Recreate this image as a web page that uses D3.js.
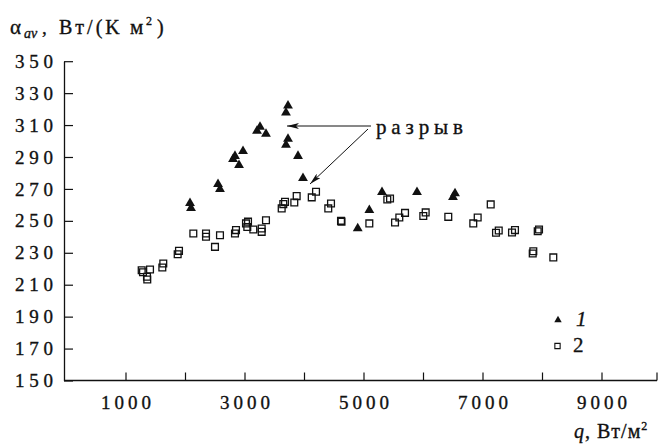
<!DOCTYPE html>
<html><head><meta charset="utf-8">
<script src="https://cdn.jsdelivr.net/npm/d3@7"></script>
<style>html,body{margin:0;padding:0;background:#fff}svg{display:block}
svg text{font-family:"Liberation Serif","DejaVu Serif",serif !important;stroke:#111;stroke-width:0.35px;}</style>
</head><body>
<svg id="chart" width="659" height="448"></svg>
<script>
// Series 1 (triangles): heat flux q, W/m2
const q1 = [2084, 2101, 2555, 2588, 2840, 2975, 2908, 2807, 3261, 3361, 3210, 3731, 3697, 3731, 3697, 3899, 3983, 4903, 5098, 5311, 5899, 6538, 6504];
const a1 = [261.1, 258.0, 273.0, 269.9, 290.6, 293.7, 284.9, 288.7, 308.8, 304.4, 306.3, 322.2, 317.8, 301.3, 297.5, 290.6, 276.8, 245.2, 256.7, 268.0, 268.0, 267.2, 264.9];
// Series 2 (squares)
const q2 = [1272, 1412, 1366, 1361, 1294, 1619, 1635, 1877, 1899, 2140, 2353, 2353, 2588, 2504, 2840, 2857, 3025, 3047, 3059, 3148, 3289, 3289, 3361, 3625, 3652, 3681, 3837, 3877, 4130, 4202, 4408, 4454, 4622, 4630, 5098, 5400, 5446, 5530, 5602, 5698, 6005, 6045, 6425, 6845, 6919, 7138, 7227, 7273, 7496, 7546, 7928, 7950, 7844, 7854, 8190];
const a2 = [219.1, 219.5, 213.3, 215.0, 217.8, 220.8, 223.3, 229.1, 231.2, 242.1, 242.1, 240.0, 241.0, 233.7, 242.1, 244.2, 248.4, 246.2, 249.5, 244.6, 245.2, 243.1, 250.4, 257.8, 260.5, 261.9, 261.5, 265.5, 264.7, 268.2, 257.8, 260.9, 250.0, 249.5, 248.4, 263.4, 264.0, 249.0, 252.1, 255.0, 253.0, 255.3, 252.5, 248.4, 252.1, 260.3, 242.5, 244.0, 242.7, 244.2, 243.5, 244.6, 229.6, 231.0, 227.1];
const xTicks = [1000, 2000, 3000, 4000, 5000, 6000, 7000, 8000, 9000];
const xLabels = ["1000", "", "3000", "", "5000", "", "7000", "", "9000"];
const yTicks = [150, 170, 190, 210, 230, 250, 270, 290, 310, 330, 350];
const legendLabels = ["1", "2"];
const gapLabel = "разрыв";

const svg = d3.select("#chart");
const FONT = "Liberation Serif";
const ink = "#111";
const x = d3.scaleLinear().domain([0, 10000]).range([66, 661]);
const y = d3.scaleLinear().domain([150, 350]).range([380.5, 61.2]);
const x0 = 64, xEnd = 657;

// X axis
const gx = svg.append("g").attr("transform", `translate(0,${y(150)})`)
  .call(d3.axisBottom(x).tickValues(xTicks).tickSizeInner(-8).tickSizeOuter(0).tickPadding(15)
    .tickFormat((d, i) => xLabels[i]));
gx.attr("font-family", null);
gx.select(".domain").remove();
gx.selectAll(".tick line").attr("stroke", ink).attr("stroke-width", 1.2);
gx.selectAll(".tick text").attr("font-family", FONT).attr("font-size", 19).attr("fill", ink)
  .each(function(d, i){ if (xLabels[i]) d3.select(this).attr("textLength", 50).attr("lengthAdjust", "spacing"); });
gx.append("line").attr("x1", x0).attr("x2", xEnd).attr("y1", 0).attr("y2", 0).attr("stroke", ink).attr("stroke-width", 1.3);
gx.append("line").attr("x1", xEnd).attr("x2", xEnd).attr("y1", 0).attr("y2", -8).attr("stroke", ink).attr("stroke-width", 1.2);

// Y axis
const gy = svg.append("g").attr("transform", `translate(${x0},0)`)
  .call(d3.axisLeft(y).tickValues(yTicks).tickSizeInner(-9).tickSizeOuter(0).tickPadding(11));
gy.attr("font-family", null);
gy.select(".domain").attr("stroke", ink).attr("stroke-width", 1.3);
gy.selectAll(".tick line").attr("stroke", ink).attr("stroke-width", 1.2);
gy.selectAll(".tick text").attr("font-family", FONT).attr("font-size", 19).attr("fill", ink)
  .attr("textLength", 38).attr("lengthAdjust", "spacing");

// Y title
const yt = svg.append("text").attr("font-family", FONT).attr("fill", ink).attr("y", 33.5);
yt.append("tspan").attr("x", 10).attr("font-size", 21).text("α");
yt.append("tspan").attr("x", 24).attr("dy", 4).attr("font-size", 14).attr("font-style", "italic").text("av");
yt.append("tspan").attr("x", 42).attr("dy", -4).attr("font-size", 19).text(",");
yt.append("tspan").attr("x", 59).attr("font-size", 20).attr("letter-spacing", 3).text("Вт/(K");
yt.append("tspan").attr("x", 130).attr("font-size", 21).text("м");
yt.append("tspan").attr("x", 146).attr("dy", -9).attr("font-size", 12).text("2");
yt.append("tspan").attr("x", 157).attr("dy", 9).attr("font-size", 20).text(")");

// X title
const xt = svg.append("text").attr("font-family", FONT).attr("fill", ink).attr("y", 438).attr("font-size", 20);
xt.append("tspan").attr("x", 574).attr("font-style", "italic").text("q");
xt.append("tspan").attr("x", 585).text(",");
xt.append("tspan").attr("x", 597).attr("letter-spacing", 1).text("Вт/м");
xt.append("tspan").attr("dy", -8).attr("font-size", 12).text("2");

// Points
const pts2 = q2.map((q, i) => ({q, a: a2[i]}));
const pts1 = q1.map((q, i) => ({q, a: a1[i]}));
svg.append("g").selectAll("path").data(pts2).join("path")
  .attr("d", d3.symbol(d3.symbolSquare, 46))
  .attr("transform", d => `translate(${x(d.q)},${y(d.a)})`)
  .attr("fill", "none").attr("stroke", ink).attr("stroke-width", 1.3);
svg.append("g").selectAll("path").data(pts1).join("path")
  .attr("d", d3.symbol(d3.symbolTriangle, 42))
  .attr("transform", d => `translate(${x(d.q)},${y(d.a)})`)
  .attr("fill", ink);

// Arrows
const defs = svg.append("defs");
defs.append("marker").attr("id", "ah").attr("viewBox", "0 0 12 6").attr("refX", 12).attr("refY", 3)
  .attr("markerWidth", 12).attr("markerHeight", 6).attr("markerUnits", "userSpaceOnUse").attr("orient", "auto")
  .append("path").attr("d", "M0,0 L12,3 L0,6 L3,3 Z").attr("fill", ink);
svg.append("line").attr("x1", 371).attr("y1", 126).attr("x2", 287).attr("y2", 126)
  .attr("stroke", ink).attr("stroke-width", 1).attr("marker-end", "url(#ah)");
svg.append("line").attr("x1", 368).attr("y1", 129).attr("x2", 310).attr("y2", 184)
  .attr("stroke", ink).attr("stroke-width", 1).attr("marker-end", "url(#ah)");
svg.append("text").attr("x", 376).attr("y", 134).attr("font-family", FONT).attr("font-size", 21).attr("fill", ink)
  .attr("textLength", 87).attr("lengthAdjust", "spacing").text(gapLabel);

// Legend
const lg = svg.append("g");
lg.append("path").attr("d", d3.symbol(d3.symbolTriangle, 24)).attr("transform", "translate(558,320)").attr("fill", ink);
lg.append("path").attr("d", d3.symbol(d3.symbolSquare, 28)).attr("transform", "translate(557.5,346)")
  .attr("fill", "none").attr("stroke", ink).attr("stroke-width", 1.1);
lg.append("text").attr("x", 576).attr("y", 326).attr("font-family", FONT).attr("font-size", 21)
  .attr("font-style", "italic").attr("fill", ink).text(legendLabels[0]);
lg.append("text").attr("x", 573).attr("y", 352).attr("font-family", FONT).attr("font-size", 21)
  .attr("fill", ink).text(legendLabels[1]);
</script>
</body></html>
